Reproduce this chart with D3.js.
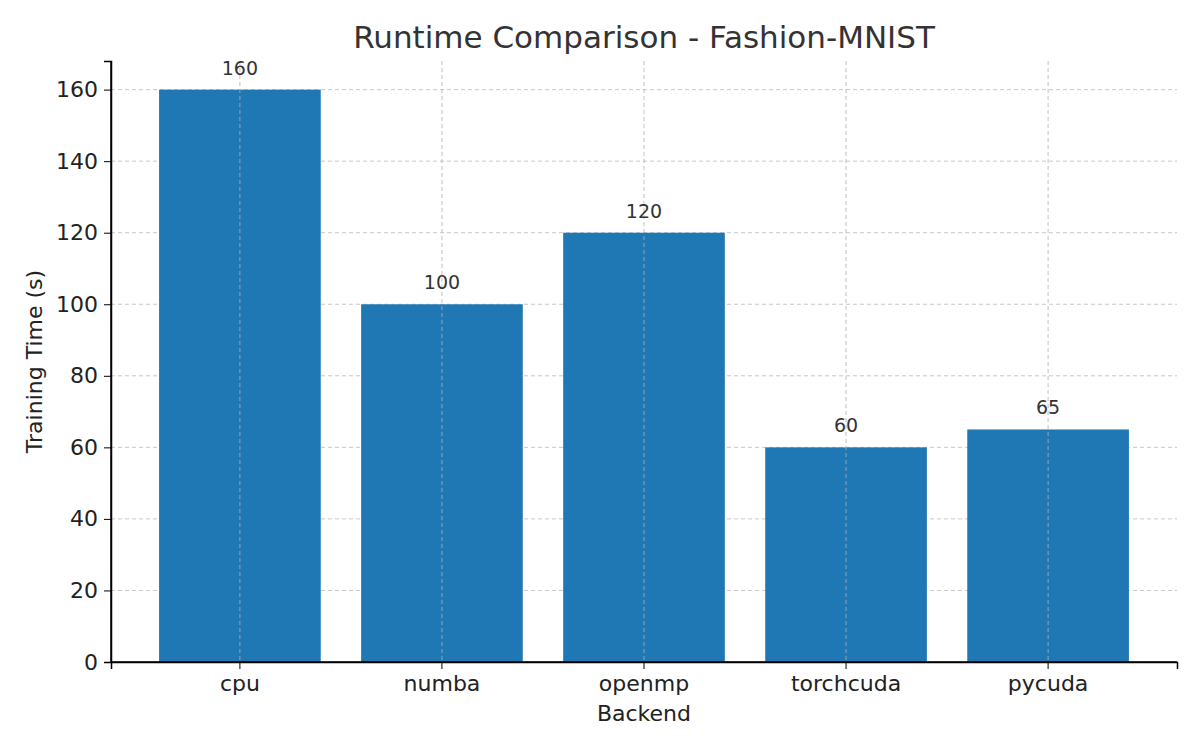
<!DOCTYPE html>
<html>
<head>
<meta charset="utf-8">
<script src="https://cdn.jsdelivr.net/npm/d3@7"></script>
<style>
  body { margin: 0; background: #fff; }
  text { font-family: "DejaVu Sans", sans-serif; }
</style>
</head>
<body>
<svg id="chart" width="1200" height="750"></svg>
<script>
// data
let backends = ["cpu", "numba", "openmp", "torchcuda", "pycuda"];
let times = [160, 100, 120, 60, 65];
let yTicks = [0, 20, 40, 60, 80, 100, 120, 140, 160];

let chart = d3.select("#chart");
let plotLeft = 111, plotRight = 1177, plotTop = 61, plotBottom = 662;

// x scale for backends
let x = d3.scaleBand()
    .domain(backends)
    .range([plotLeft, plotRight])
    .paddingInner(0.2)
    .paddingOuter(0.238);

// y scale for time
let y = d3.scaleLinear()
    .domain([0, 168])
    .range([plotBottom, plotTop]);

// grid lines
chart.append("g").selectAll("line")
    .data(yTicks)
    .enter().append("line")
    .attr("x1", plotLeft).attr("x2", plotRight)
    .attr("y1", d => y(d)).attr("y2", d => y(d))
    .attr("stroke", "#c8c8c8").attr("stroke-dasharray", "4,3");

// bars
chart.selectAll("rect.bar")
    .data(backends)
    .enter().append("rect")
    .attr("class", "bar")
    .attr("x", d => x(d))
    .attr("width", x.bandwidth())
    .attr("y", (d, i) => y(times[i]))
    .attr("height", (d, i) => plotBottom - y(times[i]))
    .attr("fill", "#1f77b4");

// vertical grid over bars
chart.append("g").selectAll("line")
    .data(backends)
    .enter().append("line")
    .attr("x1", d => x(d) + x.bandwidth() / 2).attr("x2", d => x(d) + x.bandwidth() / 2)
    .attr("y1", plotTop).attr("y2", plotBottom)
    .attr("stroke", "#b0b0b0").attr("stroke-opacity", 0.8).attr("stroke-dasharray", "4,3");

// value labels
chart.selectAll("text.val")
    .data(backends)
    .enter().append("text")
    .attr("class", "val")
    .attr("x", d => x(d) + x.bandwidth() / 2)
    .attr("y", (d, i) => y(times[i]) - 15)
    .attr("text-anchor", "middle")
    .style("font-size", "19px")
    .style("fill", "#333")
    .text((d, i) => times[i]);

// axes
let xAxis = chart.append("g")
    .attr("transform", "translate(0," + plotBottom + ")")
    .call(d3.axisBottom(x).tickSizeOuter(0).tickSize(7).tickPadding(6));
let yAxis = chart.append("g")
    .attr("transform", "translate(" + plotLeft + ",0)")
    .call(d3.axisLeft(y).tickValues(yTicks).tickSizeOuter(0).tickSize(7).tickPadding(6));
[xAxis, yAxis].forEach(g => {
    g.selectAll("text").style("font-size", "22px").style("fill", "#222")
     .style("font-family", "DejaVu Sans, sans-serif");
    g.select(".domain").attr("stroke", "#000").attr("stroke-width", 1.5);
});
// extend axis lines to full frame
chart.append("line").attr("x1", plotLeft).attr("x2", plotRight).attr("y1", plotBottom).attr("y2", plotBottom)
    .attr("stroke", "#000").attr("stroke-width", 1.5);
chart.append("line").attr("x1", plotLeft).attr("x2", plotLeft).attr("y1", plotTop).attr("y2", plotBottom)
    .attr("stroke", "#000").attr("stroke-width", 1.5);

// titles
chart.append("text")
    .attr("x", 644).attr("y", 48)
    .attr("text-anchor", "middle")
    .style("font-size", "31px").style("fill", "#333")
    .text("Runtime Comparison - Fashion-MNIST");

chart.append("text")
    .attr("x", 644).attr("y", 721)
    .attr("text-anchor", "middle")
    .style("font-size", "22px").style("fill", "#222")
    .text("Backend");

chart.append("text")
    .attr("transform", "rotate(-90)")
    .attr("x", -(plotTop + plotBottom) / 2).attr("y", 42)
    .attr("text-anchor", "middle")
    .style("font-size", "22px").style("fill", "#222")
    .text("Training Time (s)");
</script>
</body>
</html>
